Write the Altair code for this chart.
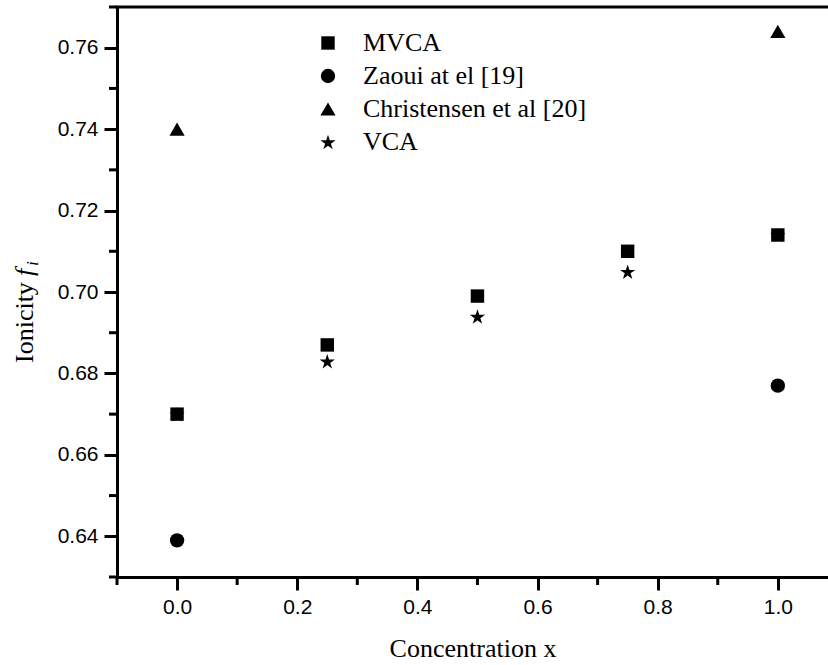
import altair as alt
import pandas as pd

# Concentration values and ionicity results
conc = [0.0, 0.25, 0.5, 0.75, 1.0]
mvca = [0.670, 0.687, 0.699, 0.710, 0.714]
vca = [0.670, 0.683, 0.694, 0.705, 0.714]
zaoui_x = [0.0, 1.0]
zaoui = [0.639, 0.677]
christ_x = [0.0, 1.0]
christ = [0.740, 0.764]

series = ["MVCA", "Zaoui at el [19]", "Christensen et al [20]", "VCA"]
x_ticks = [0.0, 0.2, 0.4, 0.6, 0.8, 1.0]
x_minor = [-0.1, 0.1, 0.3, 0.5, 0.7, 0.9]
y_ticks = [0.64, 0.66, 0.68, 0.70, 0.72, 0.74, 0.76]
y_minor = [0.63, 0.65, 0.67, 0.69, 0.71, 0.73, 0.75, 0.77]

# five-pointed star in the unit square
STAR = ("M0,-0.905L0.2245,-0.2135L0.951,-0.2135L0.363,0.2135L0.588,0.905"
        "L0,0.4775L-0.588,0.905L-0.363,0.2135L-0.951,-0.2135L-0.2245,-0.2135Z")

W, H = 711, 570
SERIF = "Liberation Serif"
SANS = "Liberation Sans"

rows = []
for xv, yv in zip(conc, vca):
    rows.append({"x": xv, "y": yv, "series": "VCA"})
for xv, yv in zip(conc, mvca):
    rows.append({"x": xv, "y": yv, "series": "MVCA"})
for xv, yv in zip(zaoui_x, zaoui):
    rows.append({"x": xv, "y": yv, "series": "Zaoui at el [19]"})
for xv, yv in zip(christ_x, christ):
    rows.append({"x": xv, "y": yv, "series": "Christensen et al [20]"})
df = pd.DataFrame(rows)

xscale = alt.Scale(domain=[-0.1, 1.0835], nice=False, zero=False)
yscale = alt.Scale(domain=[0.63, 0.77], nice=False, zero=False)

axis_style = dict(
    grid=False, domainColor="black", domainWidth=3, tickColor="black", tickWidth=3,
    tickSize=13, labelFont=SANS, labelFontSize=21, labelColor="black", labelPadding=6,
    titleFont=SERIF, titleFontSize=26, titleFontWeight="normal", titleColor="black",
    titlePadding=18,
)
xaxis = alt.Axis(values=x_ticks, format=".1f", title="Concentration x", **axis_style)
yaxis = alt.Axis(values=y_ticks, format=".2f", title=None, **axis_style)

legend = alt.Legend(
    title=None, orient="none", legendX=198, legendY=23,
    labelFont=SERIF, labelFontSize=26, labelColor="black", labelOffset=22,
    labelLimit=600, rowPadding=7, padding=0,
    symbolFillColor="black", symbolStrokeColor="black", symbolStrokeWidth=0,
    symbolOpacity=1,
    labelExpr="(datum.label == 'MVCA' || datum.label == 'VCA') ? '\u00a0' + datum.label : datum.label",
)

points = alt.Chart(df).mark_point(filled=True, opacity=1, color="black", strokeWidth=0).encode(
    x=alt.X("x:Q", scale=xscale, axis=xaxis),
    y=alt.Y("y:Q", scale=yscale, axis=yaxis),
    shape=alt.Shape("series:N",
                    scale=alt.Scale(domain=series, range=["square", "circle", "triangle-up", STAR]),
                    legend=legend),
    size=alt.Size("series:N",
                  scale=alt.Scale(domain=series, range=[180, 256, 380, 290]),
                  legend=legend),
)

# minor ticks on both axes
ym = alt.Chart(pd.DataFrame({"y": y_minor})).mark_rule(color="black", strokeWidth=3).encode(
    y=alt.Y("y:Q", scale=yscale, axis=yaxis),
    x=alt.value(-8), x2=alt.value(0),
)
xm = alt.Chart(pd.DataFrame({"x": x_minor})).mark_rule(color="black", strokeWidth=3).encode(
    x=alt.X("x:Q", scale=xscale, axis=xaxis),
    y=alt.value(H), y2=alt.value(H + 8),
)

# top frame line
top = alt.Chart(pd.DataFrame({"k": [0]})).mark_rule(color="black", strokeWidth=3).encode(
    x=alt.value(-1.5), x2=alt.value(W), y=alt.value(0),
)

# y-axis title: "Ionicity" with italic f and subscript i
t1 = alt.Chart(pd.DataFrame({"t": ["Ionicity"]})).mark_text(
    font=SERIF, fontSize=26, angle=270, align="left", baseline="alphabetic", color="black"
).encode(text="t:N", x=alt.value(-84), y=alt.value(356))
t2 = alt.Chart(pd.DataFrame({"t": ["f"]})).mark_text(
    font=SERIF, fontSize=26, fontStyle="italic", angle=270, align="left",
    baseline="alphabetic", color="black"
).encode(text="t:N", x=alt.value(-84), y=alt.value(269))
t3 = alt.Chart(pd.DataFrame({"t": ["i"]})).mark_text(
    font=SERIF, fontSize=17, fontStyle="italic", angle=270, align="left",
    baseline="alphabetic", color="black"
).encode(text="t:N", x=alt.value(-79), y=alt.value(259))

chart = alt.layer(points, ym, xm, top, t1, t2, t3).properties(
    width=W, height=H,
    background="white",
    autosize=alt.AutoSizeParams(type="none"),
    padding={"left": 117, "top": 7, "right": 0, "bottom": 88},
).configure_view(stroke=None).configure_axis(**axis_style)

chart.save("out.html", embed_options={"renderer": "svg", "actions": False})
